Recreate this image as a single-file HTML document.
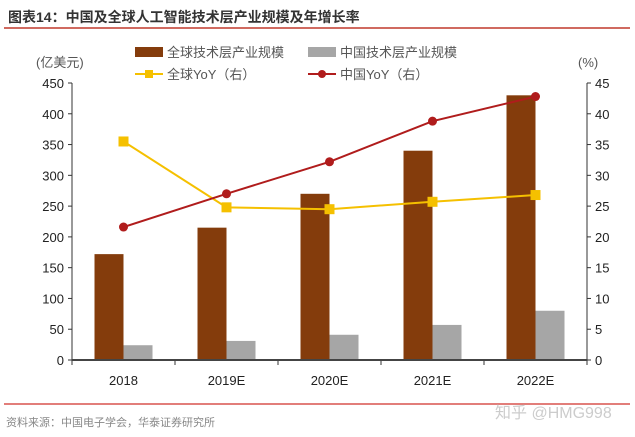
<!DOCTYPE html>
<html><head><meta charset="utf-8"><style>
body{margin:0;background:#fff;}
svg{display:block;font-family:"Liberation Sans","Noto Sans CJK SC",sans-serif;}
</style></head><body>
<svg id="c" width="635" height="437">
<text x="8" y="22" font-size="14" font-weight="bold" fill="#333">图表14：中国及全球人工智能技术层产业规模及年增长率</text>
<line x1="4" y1="28" x2="630" y2="28" stroke="#c0392b" stroke-width="1.5"/>
<g font-size="13" fill="#555">
<rect x="135" y="47" width="28" height="10" fill="#843c0c"/>
<text x="167" y="57">全球技术层产业规模</text>
<rect x="308" y="47" width="28" height="10" fill="#a6a6a6"/>
<text x="340" y="57">中国技术层产业规模</text>
<line x1="135" y1="74" x2="163" y2="74" stroke="#f5c000" stroke-width="2"/>
<rect x="145" y="70" width="8" height="8" fill="#f5c000"/>
<text x="167" y="79">全球YoY（右）</text>
<line x1="308" y1="74" x2="336" y2="74" stroke="#b01c1c" stroke-width="2"/>
<circle cx="322" cy="74" r="4" fill="#b01c1c"/>
<text x="340" y="79">中国YoY（右）</text>
</g>
<text x="36" y="67" font-size="13" fill="#555">(亿美元)</text>
<text x="578" y="67" font-size="13" fill="#555">(%)</text>
<g id="plot"></g>
<line x1="4" y1="404" x2="630" y2="404" stroke="#d9534f" stroke-width="1.5"/>
<text x="6" y="426" font-size="11" fill="#888">资料来源：中国电子学会，华泰证券研究所</text>
<text x="495" y="418" font-size="16" fill="#ccc">知乎 @HMG998</text>
</svg>
<script>
const categories=["2018","2019E","2020E","2021E","2022E"];
const globalSize=[172,215,270,340,430];
const chinaSize=[24,31,41,57,80];
const globalYoY=[35.5,24.8,24.5,25.7,26.8];
const chinaYoY=[21.6,27.0,32.2,38.8,42.8];
const leftTicks=[0,50,100,150,200,250,300,350,400,450];
const rightTicks=[0,5,10,15,20,25,30,35,40,45];
const NS="http://www.w3.org/2000/svg";
const g=document.getElementById('plot');
const X0=72,X1=587,Y0=360,Y1=83;
const cw=(X1-X0)/categories.length;
const yL=v=>Y0-(v/450)*(Y0-Y1);
const yR=v=>Y0-(v/45)*(Y0-Y1);
const cx=i=>X0+cw*(i+0.5);
function mk(t,a){const e=document.createElementNS(NS,t);for(const k in a)e.setAttribute(k,a[k]);g.appendChild(e);return e;}
// axes
let e=mk('line',{x1:X0,y1:Y1,x2:X0,y2:Y0,stroke:'#333','stroke-width':1});


e=mk('line',{x1:X1,y1:Y1,x2:X1,y2:Y0,stroke:'#333','stroke-width':1});


leftTicks.forEach(v=>{
 mk('line',{x1:X0-4,y1:yL(v),x2:X0,y2:yL(v),stroke:'#333'});
 const t=mk('text',{x:X0-8,y:yL(v)+5,'text-anchor':'end','font-size':13,fill:'#222'});t.textContent=v;
 
 
});
rightTicks.forEach(v=>{
 mk('line',{x1:X1,y1:yR(v),x2:X1+4,y2:yR(v),stroke:'#333'});
 const t=mk('text',{x:X1+8,y:yR(v)+5,'font-size':13,fill:'#222'});t.textContent=v;
 
 
});
categories.forEach((c,i)=>{
 const b=mk('rect',{x:cx(i)-29,y:yL(globalSize[i]),width:29,height:Y0-yL(globalSize[i]),fill:'#843c0c'});
 
 
 const b2=mk('rect',{x:cx(i),y:yL(chinaSize[i]),width:29,height:Y0-yL(chinaSize[i]),fill:'#a6a6a6'});
 
 
 const t=mk('text',{x:cx(i),y:385,'text-anchor':'middle','font-size':13,fill:'#222'});t.textContent=c;
 
 
});
for(let i=0;i<=categories.length;i++)mk('line',{x1:X0+cw*i,y1:Y0,x2:X0+cw*i,y2:Y0+5,stroke:'#333'});
e=mk('line',{x1:X0,y1:Y0,x2:X1,y2:Y0,stroke:'#444','stroke-width':2});


let p=mk('polyline',{points:globalYoY.map((v,i)=>cx(i)+','+yR(v)).join(' '),fill:'none',stroke:'#f5c000','stroke-width':2});


globalYoY.forEach((v,i)=>{const m=mk('rect',{x:cx(i)-5,y:yR(v)-5,width:10,height:10,fill:'#f5c000'});
 
 });
p=mk('polyline',{points:chinaYoY.map((v,i)=>cx(i)+','+yR(v)).join(' '),fill:'none',stroke:'#b01c1c','stroke-width':2});


chinaYoY.forEach((v,i)=>{const m=mk('circle',{cx:cx(i),cy:yR(v),r:4.5,fill:'#b01c1c'});
 
 });
</script>
</body></html>
